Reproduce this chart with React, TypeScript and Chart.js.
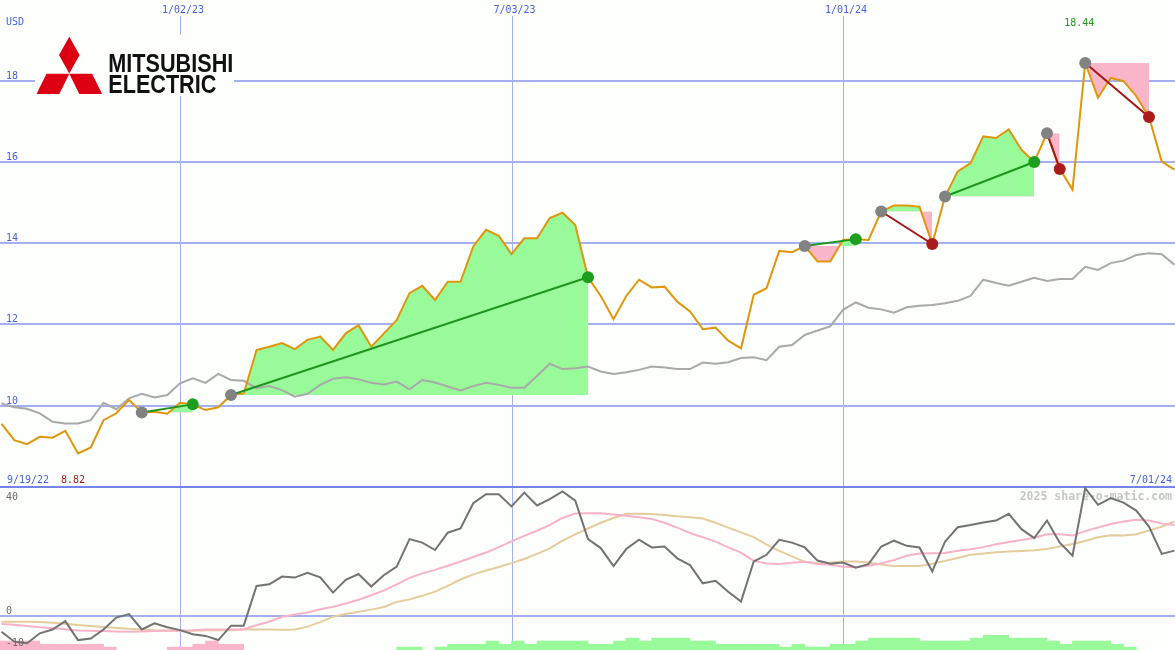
import React, { useEffect, useRef } from 'react';
import { Chart, registerables } from 'chart.js';

Chart.register(...registerables);

// ---- data (weekly, week 0 = 9/19/22) ----
const startLabel = '9/19/22';
const endLabel = '7/01/24';
const dateTickWeeks = [15, 41, 67];
const dateTickLabels = ['1/02/23', '7/03/23', '1/01/24'];
const priceTicks = [10, 12, 14, 16, 18];
const oscTicks = [40, 0, -10];

const closePrice = [
  9.55, 9.15, 9.05, 9.23, 9.21, 9.38, 8.82, 8.97, 9.64, 9.81,
  10.14, 9.83, 9.85, 9.80, 10.07, 10.03, 9.89, 9.96, 10.26, 10.30,
  11.37, 11.45, 11.54, 11.39, 11.62, 11.70, 11.37, 11.78, 11.98, 11.45,
  11.78, 12.11, 12.77, 12.95, 12.60, 13.05, 13.05, 13.92, 14.33, 14.18,
  13.73, 14.12, 14.12, 14.62, 14.75, 14.45, 13.16, 12.70, 12.13, 12.70,
  13.10, 12.91, 12.93, 12.56, 12.32, 11.88, 11.92, 11.60, 11.41, 12.73,
  12.89, 13.81, 13.78, 13.93, 13.55, 13.55, 14.08, 14.10, 14.08, 14.78,
  14.93, 14.93, 14.90, 13.98, 15.15, 15.77, 15.97, 16.63, 16.59, 16.80,
  16.30, 16.00, 16.71, 15.83, 15.32, 18.44, 17.58, 18.07, 17.99, 17.62,
  17.11, 16.01, 15.81,
];

const compareLine = [
  10.05, 9.96, 9.92, 9.81, 9.60, 9.56, 9.56, 9.64, 10.07, 9.91,
  10.18, 10.29, 10.20, 10.26, 10.55, 10.67, 10.56, 10.78, 10.63, 10.61,
  10.43, 10.48, 10.38, 10.22, 10.29, 10.51, 10.66, 10.70, 10.65, 10.56,
  10.52, 10.59, 10.40, 10.63, 10.57, 10.47, 10.37, 10.48, 10.56, 10.51,
  10.44, 10.44, 10.73, 11.03, 10.90, 10.92, 10.96, 10.84, 10.78, 10.82,
  10.88, 10.96, 10.94, 10.90, 10.90, 11.06, 11.03, 11.07, 11.17, 11.19,
  11.12, 11.45, 11.49, 11.74, 11.85, 11.95, 12.36, 12.54, 12.41, 12.37,
  12.29, 12.42, 12.46, 12.48, 12.52, 12.58, 12.70, 13.10, 13.02, 12.95,
  13.05, 13.15, 13.07, 13.12, 13.12, 13.42, 13.34, 13.51, 13.57, 13.71,
  13.75, 13.73, 13.47,
];

const momentum = [
  -5.0, -8.1, -8.6, -5.5, -4.3, -1.7, -7.6, -7.1, -4.3, -0.6,
  0.5, -4.3, -2.4, -3.6, -4.5, -5.8, -6.3, -7.6, -3.1, -3.1,
  9.3, 9.8, 12.2, 11.9, 13.4, 12.0, 7.2, 11.2, 13.0, 9.1,
  12.7, 15.3, 23.9, 22.8, 20.5, 25.9, 27.2, 35.1, 37.9, 37.9,
  34.1, 38.4, 34.4, 36.4, 38.8, 35.9, 23.9, 21.1, 15.5, 20.8,
  23.7, 21.3, 21.6, 17.9, 15.8, 10.1, 10.9, 7.5, 4.4, 16.9,
  19.0, 23.7, 22.8, 21.3, 17.2, 16.2, 16.6, 15.0, 16.1, 21.6,
  23.4, 21.8, 21.3, 13.8, 23.1, 27.6, 28.3, 29.1, 29.7, 31.8,
  27.0, 24.2, 29.7, 22.8, 18.7, 39.8, 34.6, 36.7, 35.3, 32.8,
  27.8, 19.3, 20.3,
];

const momentumFast = [
  -2.6, -2.8, -3.2, -3.6, -3.9, -4.2, -4.6, -4.7, -4.8, -4.9,
  -5.0, -4.9, -4.8, -4.7, -4.6, -4.5, -4.3, -4.3, -4.3, -4.2,
  -3.0, -1.8, -0.4, 0.4, 1.0, 2.0, 2.8, 3.8, 5.0, 6.4,
  7.9, 9.8, 11.8, 13.2, 14.3, 15.6, 16.9, 18.3, 19.7, 21.4,
  23.2, 24.9, 26.5, 28.3, 30.5, 31.9, 32.0, 32.0, 31.6, 31.2,
  30.7, 30.2, 29.0, 27.5, 25.8, 24.5, 23.1, 21.3, 19.7, 17.1,
  16.3, 16.1, 16.5, 16.8, 16.1, 15.9, 15.3, 15.1, 15.6, 16.3,
  17.4, 18.7, 19.4, 19.5, 19.6, 20.3, 20.7, 21.4, 22.3, 23.0,
  23.6, 24.3, 25.4, 25.4, 25.0, 26.4, 27.5, 28.6, 29.4, 29.9,
  29.7, 28.8, 28.3,
];

const momentumSlow = [
  -1.9, -1.9, -1.9, -2.0, -2.2, -2.5, -2.9, -3.2, -3.5, -3.8,
  -4.1, -4.3, -4.5, -4.6, -4.7, -4.7, -4.5, -4.5, -4.5, -4.3,
  -4.3, -4.3, -4.4, -4.3, -3.4, -2.0, -0.3, 0.5, 1.2, 1.9,
  2.7, 4.3, 5.1, 6.2, 7.5, 9.3, 11.3, 12.9, 14.1, 15.2,
  16.4, 17.7, 19.3, 21.0, 23.4, 25.4, 27.2, 29.0, 30.5, 31.8,
  31.8, 31.7, 31.4, 31.0, 30.7, 30.3, 29.0, 27.5, 26.0, 24.5,
  22.2, 20.2, 18.5, 16.8, 16.4, 16.6, 16.9, 16.9, 16.6, 16.0,
  15.5, 15.5, 15.5, 16.2, 17.1, 18.0, 19.0, 19.4, 19.8, 20.0,
  20.2, 20.4, 20.8, 21.6, 22.4, 23.3, 24.5, 25.1, 25.0, 25.4,
  26.6, 27.8, 29.4,
];

const histogram = [
  -2.8, -2.8, -2.8, -2.8, -1.8, -1.8, -1.8, -1.8, -1.8, -0.9,
  0, 0, 0, 0, -0.9, -0.9, -1.8, -2.8, -1.8, -1.8,
  0, 0, 0, 0, 0, 0, 0, 0, 0, 0,
  0, 0, 0.9, 0.9, 0, 0.9, 1.8, 1.8, 1.8, 2.8,
  1.8, 2.8, 1.8, 2.8, 2.8, 2.8, 2.8, 1.8, 1.8, 2.8,
  3.7, 2.8, 3.7, 3.7, 3.7, 2.8, 2.8, 1.8, 1.8, 1.8,
  1.8, 1.8, 0.9, 1.8, 0.9, 0.9, 1.8, 1.8, 2.8, 3.7,
  3.7, 3.7, 3.7, 2.8, 2.8, 2.8, 2.8, 3.7, 4.6, 4.6,
  3.7, 3.7, 3.7, 2.8, 1.8, 2.8, 2.8, 2.8, 1.8, 0.9,
  0, 0, 0,
];

const tradeEntries = [12, 19, 64, 70, 75, 83, 86];
const tradeExits = [16, 47, 68, 74, 82, 84, 91];

// ---- styling ----
const BG = '#fdfffd';
const GRID = '#a4b0f0';
const SEP = '#7484ea';
const BLUE = '#4a5ee4';
const GAIN_FILL = '#98fa98';
const LOSS_FILL = '#fab6c9';
const X_MIN = 0.88;
const X_MAX = 93.04;
const P_MIN = 3.98;
const P_MAX = 19.99;
const O_MIN = -10.7;
const O_MAX = 192.1;

const weeks = closePrice.map((_, k) => k + 1);

const decorPlugin = {
  id: 'decor',
  beforeDraw(chart: any) {
    const { ctx, width, height } = chart;
    ctx.save();
    ctx.fillStyle = BG;
    ctx.fillRect(0, 0, width, height);
    ctx.restore();
  },
  beforeDatasetsDraw(chart: any) {
    const { ctx, width, height } = chart;
    const xs = chart.scales.x;
    const yp = chart.scales.yPrice;
    const yo = chart.scales.yOsc;
    ctx.save();
    ctx.strokeStyle = GRID;
    ctx.lineWidth = 1;
    dateTickWeeks.forEach((w) => {
      const px = Math.round(xs.getPixelForValue(w)) + 0.5;
      ctx.beginPath();
      ctx.moveTo(px, 16);
      ctx.lineTo(px, height);
      ctx.stroke();
    });
    ctx.lineWidth = 2;
    priceTicks.forEach((v) => {
      const py = Math.round(yp.getPixelForValue(v));
      ctx.beginPath();
      ctx.moveTo(0, py);
      ctx.lineTo(width, py);
      ctx.stroke();
    });
    const z = Math.round(yo.getPixelForValue(0));
    ctx.beginPath();
    ctx.moveTo(0, z);
    ctx.lineTo(width, z);
    ctx.stroke();
    ctx.strokeStyle = SEP;
    const s = Math.floor(yo.getPixelForValue(40));
    ctx.beginPath();
    ctx.moveTo(0, s);
    ctx.lineTo(width, s);
    ctx.stroke();

    // logo
    ctx.fillStyle = BG;
    ctx.fillRect(35, 35, 199, 61);
    ctx.fillStyle = '#dc0012';
    const poly = (pts: number[][]) => {
      ctx.beginPath();
      ctx.moveTo(pts[0][0], pts[0][1]);
      for (let i = 1; i < pts.length; i++) ctx.lineTo(pts[i][0], pts[i][1]);
      ctx.closePath();
      ctx.fill();
    };
    poly([[69.3, 36.7], [79.6, 55], [69.3, 73.5], [59, 55]]);
    poly([[69.3, 73.8], [46.5, 73.8], [36.5, 94], [59.3, 94]]);
    poly([[69.3, 73.8], [92.1, 73.8], [102.1, 94], [79.3, 94]]);
    ctx.fillStyle = '#111111';
    ctx.textBaseline = 'alphabetic';
    ctx.textAlign = 'left';
    const logoText = (t: string, x: number, y: number, w: number) => {
      ctx.font = 'bold 25px "Liberation Sans", Arial, sans-serif';
      const m = ctx.measureText(t).width;
      ctx.save();
      ctx.translate(x, y);
      ctx.scale(w / m, 1);
      ctx.fillText(t, 0, 0);
      ctx.restore();
    };
    logoText('MITSUBISHI', 108.3, 71.7, 125);
    logoText('ELECTRIC', 108.3, 93.3, 108);

    // watermark
    ctx.font = 'bold 11.5px "DejaVu Sans Mono", monospace';
    ctx.fillStyle = '#c6c6c6';
    ctx.textAlign = 'right';
    ctx.fillText('2025 share-o-matic.com', 1172, 500);
    ctx.restore();
  },
  afterDatasetsDraw(chart: any) {
    const { ctx } = chart;
    const xs = chart.scales.x;
    const yp = chart.scales.yPrice;
    const yo = chart.scales.yOsc;
    ctx.save();
    ctx.font = '10px "DejaVu Sans Mono", monospace';
    ctx.textBaseline = 'alphabetic';
    ctx.fillStyle = BLUE;
    ctx.textAlign = 'left';
    ctx.fillText('USD', 6, 25);
    priceTicks.forEach((v) => ctx.fillText(String(v), 6, yp.getPixelForValue(v) - 2));
    ctx.textAlign = 'center';
    dateTickWeeks.forEach((w, i) => ctx.fillText(dateTickLabels[i], xs.getPixelForValue(w) + 3, 13));
    ctx.textAlign = 'left';
    ctx.fillText(startLabel, 7, 483);
    ctx.textAlign = 'right';
    ctx.fillText(endLabel, 1172, 483);

    const hi = Math.max(...closePrice);
    const lo = Math.min(...closePrice);
    const hiWeek = weeks[closePrice.indexOf(hi)];
    ctx.fillStyle = '#1c9a1c';
    ctx.textAlign = 'center';
    ctx.fillText(hi.toFixed(2), xs.getPixelForValue(hiWeek) - 6, 26);
    ctx.fillStyle = '#a01c1c';
    ctx.textAlign = 'left';
    ctx.fillText(lo.toFixed(2), 61, 483);

    ctx.fillStyle = '#6a6a6a';
    oscTicks.forEach((v) => {
      const py = yo.getPixelForValue(v);
      ctx.fillText(String(v), 6, v === 40 ? py + 12.5 : py - 2);
    });
    ctx.restore();
  },
};

export default function App() {
  const ref = useRef<HTMLCanvasElement | null>(null);

  useEffect(() => {
    const canvas = ref.current;
    if (!canvas) return;

    const series = (vals: number[]) => vals.map((v, k) => ({ x: weeks[k], y: v }));

    const fillSets = tradeEntries.map((e, t) => {
      const x1 = tradeExits[t];
      const pts = weeks
        .filter((w) => w >= e && w <= x1)
        .map((w) => ({ x: w, y: closePrice[w - 1] }));
      return {
        type: 'line',
        data: pts,
        xAxisID: 'x',
        yAxisID: 'yPrice',
        borderWidth: 0,
        borderColor: 'rgba(0,0,0,0)',
        backgroundColor: GAIN_FILL,
        pointRadius: 0,
        fill: { target: { value: closePrice[e - 1] }, above: GAIN_FILL, below: LOSS_FILL },
        order: 10,
      };
    });

    const tradeLines = tradeEntries.map((e, t) => {
      const x1 = tradeExits[t];
      const win = closePrice[x1 - 1] >= closePrice[e - 1];
      return {
        type: 'line',
        data: [
          { x: e, y: closePrice[e - 1] },
          { x: x1, y: closePrice[x1 - 1] },
        ],
        xAxisID: 'x',
        yAxisID: 'yPrice',
        borderColor: win ? '#1f941f' : '#a41616',
        borderWidth: 2,
        pointRadius: 0,
        fill: false,
        order: -1,
      };
    });

    const dotPts: any[] = [];
    const dotColors: string[] = [];
    tradeEntries.forEach((e, t) => {
      const x1 = tradeExits[t];
      const win = closePrice[x1 - 1] >= closePrice[e - 1];
      dotPts.push({ x: e, y: closePrice[e - 1] });
      dotColors.push('#828282');
      dotPts.push({ x: x1, y: closePrice[x1 - 1] });
      dotColors.push(win ? '#1e9e1e' : '#aa1c1c');
    });

    const bars = histogram
      .map((h, k) => ({ h, w: weeks[k] }))
      .filter((b) => b.h !== 0);

    const chart = new Chart(canvas, {
      type: 'line',
      data: {
        datasets: [
          ...fillSets,
          {
            type: 'line',
            data: series(compareLine),
            xAxisID: 'x',
            yAxisID: 'yPrice',
            borderColor: '#a9a9a9',
            borderWidth: 2,
            pointRadius: 0,
            fill: false,
            order: 5,
          },
          {
            type: 'line',
            data: series(closePrice),
            xAxisID: 'x',
            yAxisID: 'yPrice',
            borderColor: '#e0960c',
            borderWidth: 2,
            pointRadius: 0,
            fill: false,
            order: 0,
          },
          ...tradeLines,
          {
            type: 'line',
            data: dotPts,
            xAxisID: 'x',
            yAxisID: 'yPrice',
            showLine: false,
            pointRadius: 6,
            pointBorderWidth: 0,
            pointBackgroundColor: dotColors,
            pointBorderColor: dotColors,
            fill: false,
            order: -2,
          },
          {
            type: 'bar',
            data: bars.map((b) => ({ x: b.w - 0.5, y: [O_MIN, O_MIN + Math.abs(b.h)] })),
            xAxisID: 'x',
            yAxisID: 'yOsc',
            backgroundColor: bars.map((b) => (b.h < 0 ? LOSS_FILL : GAIN_FILL)),
            borderWidth: 0,
            barPercentage: 1,
            categoryPercentage: 1,
            grouped: false,
            order: 9,
          },
          {
            type: 'line',
            data: series(momentumSlow),
            xAxisID: 'x',
            yAxisID: 'yOsc',
            borderColor: '#e4cc9c',
            borderWidth: 2,
            pointRadius: 0,
            fill: false,
            order: 8,
          },
          {
            type: 'line',
            data: series(momentumFast),
            xAxisID: 'x',
            yAxisID: 'yOsc',
            borderColor: '#f8b2c8',
            borderWidth: 2,
            pointRadius: 0,
            fill: false,
            order: 7,
          },
          {
            type: 'line',
            data: series(momentum),
            xAxisID: 'x',
            yAxisID: 'yOsc',
            borderColor: '#737373',
            borderWidth: 2,
            pointRadius: 0,
            fill: false,
            order: 6,
          },
        ] as any,
      },
      options: {
        responsive: false,
        animation: false,
        devicePixelRatio: 1,
        events: [],
        layout: { padding: 0, autoPadding: false },
        plugins: {
          legend: { display: false },
          tooltip: { enabled: false },
        },
        elements: { line: { tension: 0 } },
        scales: {
          x: { type: 'linear', min: X_MIN, max: X_MAX, display: false, offset: false },
          yPrice: { type: 'linear', min: P_MIN, max: P_MAX, display: false },
          yOsc: { type: 'linear', min: O_MIN, max: O_MAX, display: false },
        },
      } as any,
      plugins: [decorPlugin],
    });

    return () => chart.destroy();
  }, []);

  return (
    <div style={{ position: 'absolute', left: 0, top: 0, width: 1175, height: 650, overflow: 'hidden' }}>
      <canvas ref={ref} width={1175} height={650} style={{ display: 'block', width: 1175, height: 650 }} />
    </div>
  );
}
